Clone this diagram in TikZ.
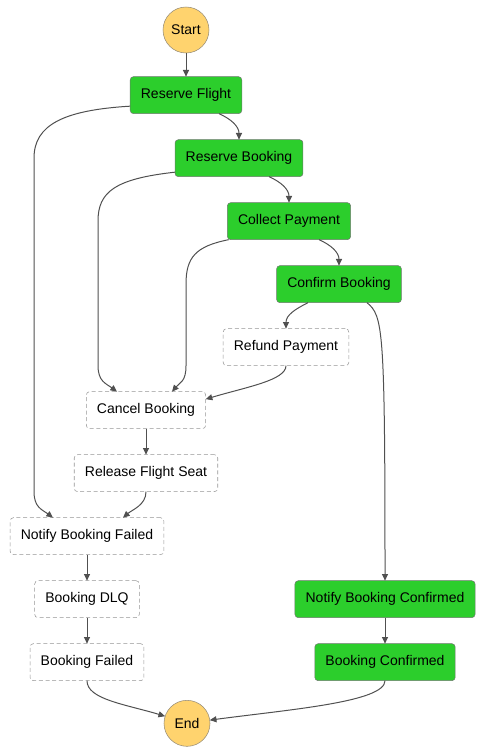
\documentclass[tikz,border=0pt]{standalone}
\usepackage{fontspec}
\setmainfont{Liberation Sans}
\usetikzlibrary{shapes,arrows.meta,positioning}
\definecolor{taskgreen}{RGB}{44,206,44}
\definecolor{taskline}{RGB}{110,120,110}
\definecolor{termfill}{RGB}{255,211,110}
\definecolor{termline}{RGB}{150,140,120}
\definecolor{dashline}{RGB}{150,150,150}
\definecolor{flowline}{RGB}{80,80,80}
\tikzstyle{Task} = [draw=taskline, fill=taskgreen, rectangle, rounded corners=2.5pt, minimum height=27.75pt, inner xsep=8pt, outer sep=0pt, font=\fontsize{10.5}{12}\selectfont]
\tikzstyle{Fallback} = [draw=dashline, dashed, dash pattern=on 3pt off 2pt, fill=white, rectangle, rounded corners=2.5pt, minimum height=27.75pt, inner xsep=8pt, outer sep=0pt, font=\fontsize{10.5}{12}\selectfont]
\tikzstyle{Terminal} = [draw=termline, fill=termfill, circle, minimum size=34.5pt, inner sep=0pt, outer sep=0pt, font=\fontsize{10.5}{12}\selectfont]
\tikzstyle{Flow} = [draw=flowline, line width=0.75pt, -{Triangle[length=5pt,width=4.5pt]}]

\begin{document}
\begin{tikzpicture}[node distance=19.5pt]
    \useasboundingbox (0,0) rectangle (363.75pt,-561pt);
    \node[Terminal] (start) at (139.5pt,-22.5pt)                {Start};
    \node[Task] (flight)   [below=17.75pt of start]              {Reserve Flight};
    \node[Task] (booking)  [below=of flight, xshift=39.75pt]     {Reserve Booking};
    \node[Task] (payment)  [below=of booking, xshift=37.5pt]     {Collect Payment};
    \node[Task] (confirm)  [below=of payment, xshift=37.5pt]     {Confirm Booking};
    \node[Fallback] (refund)  [below=of confirm, xshift=-39.75pt] {Refund Payment};
    \node[Fallback] (cancel)  [below=of refund, xshift=-105pt]    {Cancel Booking};
    \node[Fallback] (release) [below=of cancel]                  {Release Flight Seat};
    \node[Fallback] (notifyfail) [below=of release, xshift=-44.25pt] {Notify Booking Failed};
    \node[Fallback] (dlq)     [below=of notifyfail]              {Booking DLQ};
    \node[Fallback] (failed)  [below=of dlq]                     {Booking Failed};
    \node[Task] (notifyok) at ([xshift=34.5pt]confirm |- dlq)    {Notify Booking Confirmed};
    \node[Task] (confirmed) [below=of notifyok]                  {Booking Confirmed};
    \node[Terminal] (end)  [below=14.75pt of failed, xshift=75pt] {End};
    % happy path
    \draw[Flow] (start) -- (flight);
    \draw[Flow] ([xshift=-15pt]booking.north |- flight.south) .. controls +(9pt,-4pt) and +(0,10pt) .. (booking.north);
    \draw[Flow] ([xshift=-15pt]payment.north |- booking.south) .. controls +(9pt,-4pt) and +(0,10pt) .. (payment.north);
    \draw[Flow] ([xshift=-15pt]confirm.north |- payment.south) .. controls +(9pt,-4pt) and +(0,10pt) .. (confirm.north);
    \draw[Flow] ([xshift=-13.5pt]notifyok.north |- confirm.south) .. controls +(12pt,-10pt) and +(0,190pt) .. (notifyok.north);
    \draw[Flow] (notifyok) -- (confirmed);
    \draw[Flow] (confirmed.south) .. controls +(0,-16pt) and +(60pt,8pt) .. (end.8);
    % failure paths
    \draw[Flow] ([yshift=-8.25pt]flight.west) .. controls +(-50pt,-3pt) and +(0,25pt) .. ([xshift=-39.75pt]notifyfail.north |- booking.center)
        -- ([xshift=-39.75pt]notifyfail.north |- release.south) .. controls +(0,-12pt) and +(-8pt,6pt) .. ([xshift=-25.5pt]notifyfail.north);
    \draw[Flow] ([yshift=-10.5pt]booking.west) .. controls +(-45pt,-5pt) and +(0,22pt) .. ([xshift=-36pt]cancel.north |- payment.center)
        -- ([xshift=-36pt]cancel.north |- refund.south) .. controls +(0,-12pt) and +(-8pt,6pt) .. ([xshift=-21.75pt]cancel.north);
    \draw[Flow] ([xshift=1pt]payment.south west) .. controls +(-25pt,-5pt) and +(0,20pt) .. ([xshift=30pt]cancel.north |- confirm.center)
        -- ([xshift=30pt]cancel.north |- refund.south) .. controls +(0,-12pt) and +(6pt,7pt) .. ([xshift=19.5pt]cancel.north);
    \draw[Flow] ([xshift=16.5pt]refund.north |- confirm.south) .. controls +(-10pt,-5pt) and +(0,10pt) .. (refund.north);
    \draw[Flow] (refund.south) .. controls +(0,-11pt) and +(30pt,9pt) .. ([yshift=8.25pt]cancel.east);
    \draw[Flow] (cancel.south) -- (cancel.south |- release.north);
    \draw[Flow] (release.south) .. controls +(0,-10pt) and +(7pt,6pt) .. ([xshift=27pt]notifyfail.north);
    \draw[Flow] (notifyfail) -- (dlq);
    \draw[Flow] (dlq) -- (failed);
    \draw[Flow] (failed.south) .. controls +(0,-14pt) and +(-30pt,9pt) .. (end.162);
  \end{tikzpicture}
\end{document}
